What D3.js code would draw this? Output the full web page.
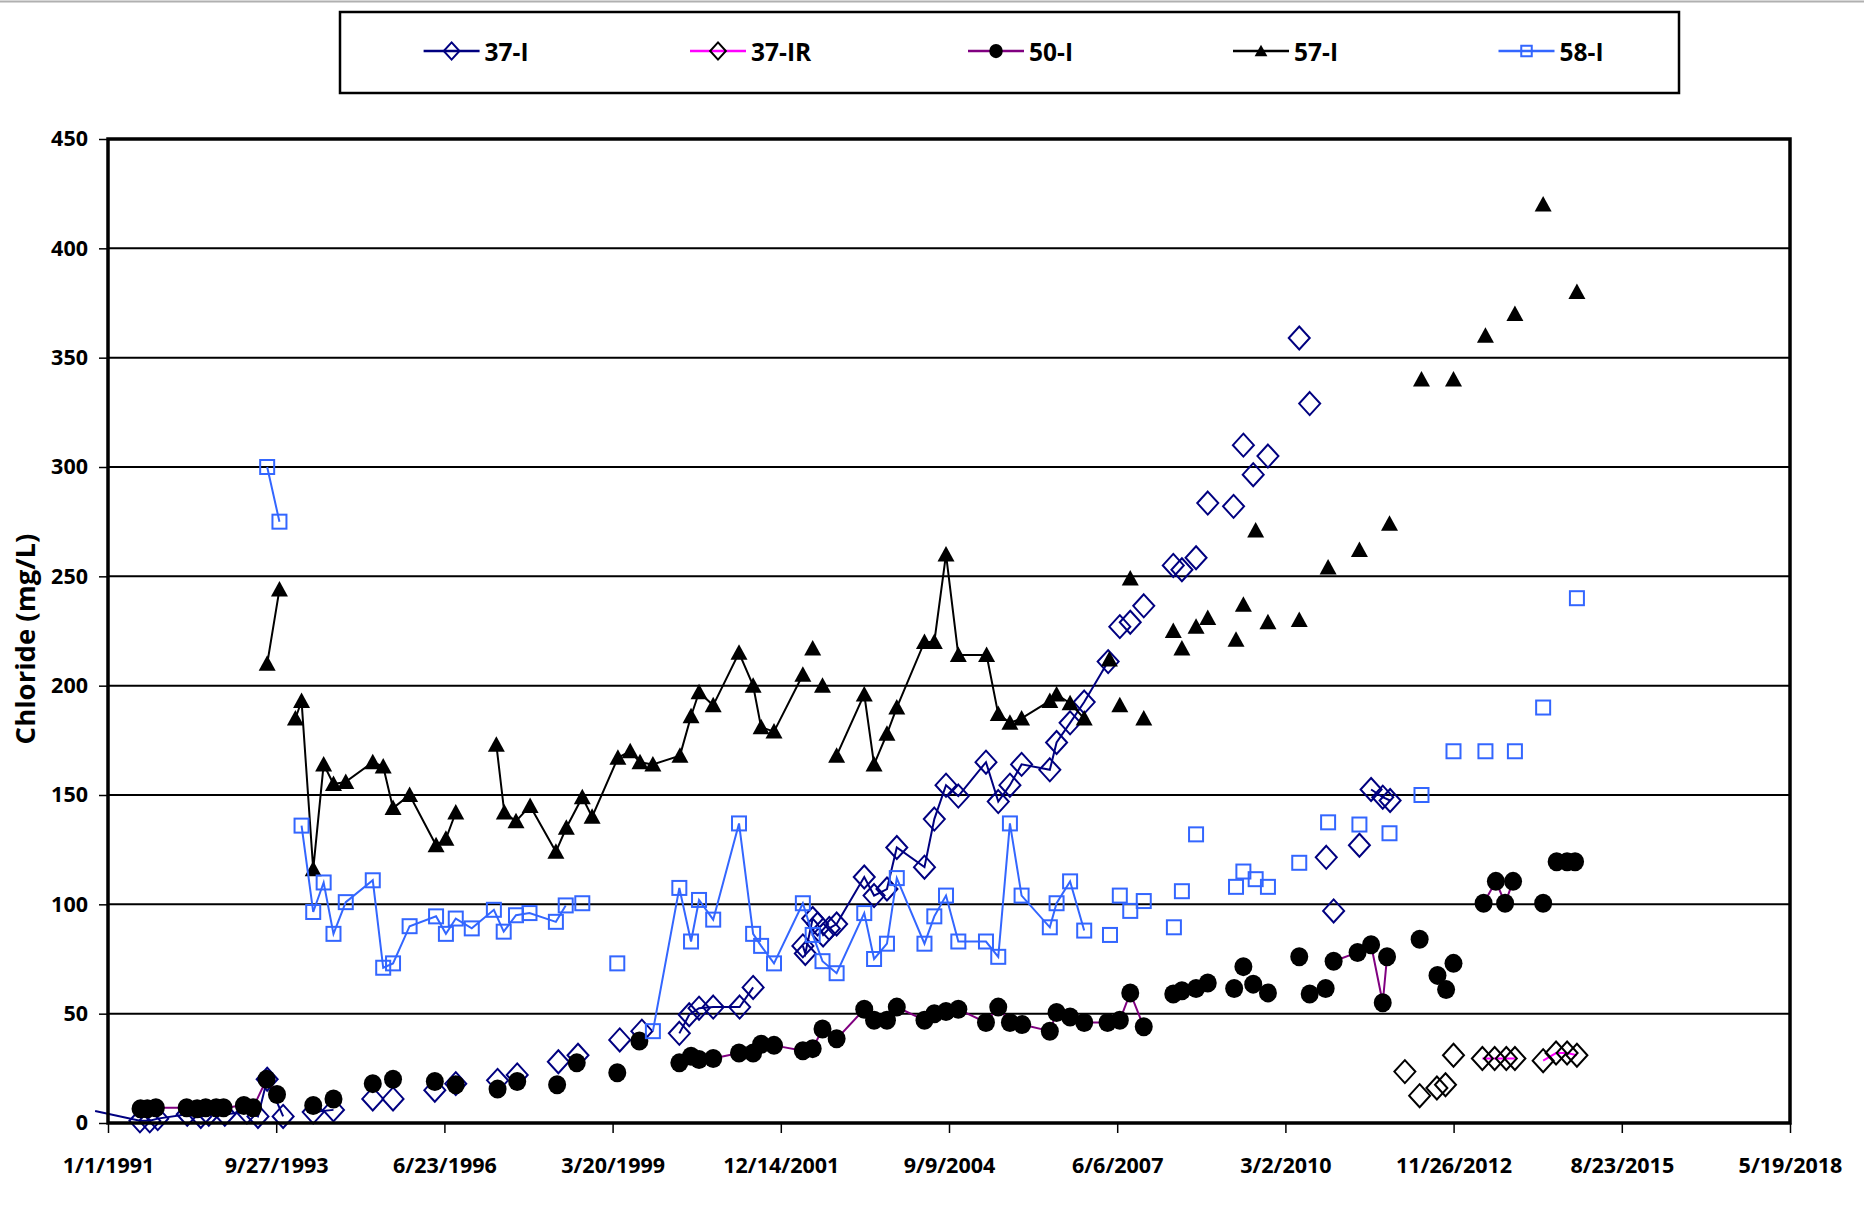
<!DOCTYPE html>
<html><head><meta charset="utf-8">
<script src="https://cdn.jsdelivr.net/npm/d3@7"></script>
<style>
body{margin:0;background:#fff}
svg{display:block}
text{font-family:"Open Sans",Arial,sans-serif;font-weight:700;fill:#000}
</style>
</head><body>
<svg id="c" width="1864" height="1222"></svg>
<script>
// ---- data (dates as decimal years; null = gap in the series) ----
const seriesNames = ["37-I", "37-IR", "50-I", "57-I", "58-I"];

const t37I = [1990.79,1991.52,1991.68,1991.81,1992.29,1992.51,1992.64,1992.90,1993.26,1993.44,1993.59,1993.85,null,1994.34,1994.67,null,1995.31,null,1995.64,null,1996.32,null,1996.66,null,1997.34,null,1997.66,null,1998.33,null,1998.65,null,1999.33,null,1999.69,null,2000.30,2000.46,2000.62,2000.85,2001.28,2001.50,null,2002.31,2002.35,2002.47,2002.55,2002.64,2002.74,2002.86,2003.31,2003.47,2003.68,2003.84,2004.29,2004.45,2004.64,2004.84,2005.29,2005.49,2005.68,2005.87,2006.33,2006.44,2006.66,2006.89,2007.28,null,2007.47,null,2007.64,null,2007.86,null,2008.34,null,2008.48,null,2008.71,null,2008.90,null,2009.32,null,2009.48,null,2009.64,null,2009.88,null,2010.39,null,2010.56,null,2010.83,null,2010.95,null,2011.37,null,2011.56,2011.75,2011.87];
const v37I = [5.5,1,1,2,4,3,4,4,5,3,20,3,null,5,6,null,11,null,11,null,15,null,18,null,19.5,null,22,null,28,null,31,null,38,null,42,null,41,49.5,52.5,53,53,62,null,81,77.5,93.5,91,86,89,91,112.5,104,107,126,117,139,154.5,149.5,165,147,154.5,164,161.5,174,183,192.5,211,null,227,null,229,null,236.5,null,255,null,253,null,258.5,null,283.5,null,282,null,310,null,296.5,null,305,null,359,null,329,null,121.5,null,97,null,127,null,152.5,149,147.5];

const t37IR = [2012.11,null,2012.35,null,2012.63,null,2012.77,null,2012.90,null,2013.37,2013.57,2013.76,2013.90,null,2014.36,2014.57,2014.75,2014.91];
const v37IR = [23.5,null,12.5,null,16,null,17.5,null,31,null,29.5,29.5,29.5,29.5,null,28.5,32,32,31];

const t50I = [1991.53,1991.64,1991.78,1992.28,1992.45,1992.59,1992.76,1992.88,1993.21,1993.36,1993.58,1993.75,null,1994.34,null,1994.67,null,1995.31,null,1995.64,null,1996.32,null,1996.66,null,1997.34,null,1997.66,null,1998.31,null,1998.63,null,1999.29,null,1999.65,null,2000.30,2000.49,2000.62,2000.85,2001.27,2001.50,2001.63,2001.84,2002.31,2002.47,2002.63,2002.86,2003.31,2003.47,2003.68,2003.84,2004.29,2004.45,2004.64,2004.84,2005.29,2005.49,2005.68,2005.88,2006.33,2006.44,2006.66,2006.89,2007.27,2007.47,2007.64,2007.86,null,2008.34,null,2008.48,null,2008.71,null,2008.90,null,2009.33,null,2009.48,null,2009.64,null,2009.88,null,2010.39,null,2010.56,null,2010.82,null,2010.95,2011.34,2011.56,2011.75,2011.82,null,2012.35,null,2012.64,null,2012.78,null,2012.90,null,2013.39,2013.59,2013.74,2013.87,null,2014.36,null,2014.58,2014.75,2014.88];
const v50I = [6.5,6.5,7,7,6.5,7,7,7,8,7,20,13,null,8,null,11,null,18,null,20,null,19,null,17.5,null,15.5,null,19,null,17.5,null,27.5,null,23,null,37.5,null,27.5,30.5,29,29.5,32,32,36,35.5,33,34,43,38.5,52,47,47,53,47,50,51,52,46,53,46,45,42,50.5,48.5,46,46,47,59.5,44,null,59,null,60.5,null,61.5,null,64,null,61.5,null,71.5,null,63.5,null,59.5,null,76,null,59,null,61.5,null,74,78,81.5,55,76,null,84,null,67.5,null,61,null,73,null,100.5,110.5,100.5,110.5,null,100.5,null,119.5,119.5,119.5];

const t57I = [1993.59,1993.79,null,1994.05,1994.15,1994.34,1994.51,1994.67,1994.87,1995.31,1995.48,1995.64,1995.91,1996.34,1996.50,1996.66,null,1997.32,1997.45,1997.64,1997.87,1998.29,1998.46,1998.72,1998.88,1999.30,1999.50,1999.66,1999.87,2000.31,2000.49,2000.62,2000.85,2001.27,2001.50,2001.63,2001.84,2002.31,null,2002.47,null,2002.63,null,2002.86,2003.31,2003.47,2003.68,2003.84,2004.29,2004.45,2004.64,2004.84,2005.30,2005.49,2005.68,2005.87,2006.33,2006.44,2006.66,2006.89,null,2007.30,null,2007.47,null,2007.64,null,2007.86,null,2008.34,null,2008.48,null,2008.71,null,2008.90,null,2009.36,null,2009.48,null,2009.68,null,2009.88,null,2010.39,null,2010.86,null,2011.37,null,2011.86,null,2012.38,null,2012.90,null,2013.42,null,2013.90,null,2014.36,null,2014.91];
const v57I = [210,244,null,185,193,116,164,155,156,165,163,144,150,127,130,142,null,173,142,138,145,124,135,149,140,167,170,165,164,168,186,197,191,215,200,181,179,205,null,217,null,200,null,168,196,164,178,190,220,220,260,214,214,187,183,185,193,196,192,185,null,212,null,191,null,249,null,185,null,225,null,217,null,227,null,231,null,221,null,237,null,271,null,229,null,230,null,254,null,262,null,274,null,340,null,340,null,360,null,370,null,420,null,380];

const t58I = [1993.59,1993.79,null,1994.15,1994.34,1994.51,1994.67,1994.87,1995.31,1995.48,1995.64,1995.91,1996.34,1996.50,1996.66,1996.92,1997.28,1997.44,1997.64,1997.86,1998.29,1998.45,null,1998.72,null,1999.29,null,1999.87,2000.30,2000.49,2000.62,2000.85,2001.27,2001.50,2001.63,2001.84,2002.31,2002.47,2002.63,2002.86,2003.31,2003.47,2003.68,2003.84,2004.29,2004.45,2004.64,2004.84,2005.29,2005.49,2005.68,2005.87,2006.33,2006.44,2006.66,2006.89,null,2007.31,null,2007.47,null,2007.64,null,2007.86,null,2008.35,null,2008.48,null,2008.71,null,2009.36,null,2009.48,null,2009.68,null,2009.88,null,2010.39,null,2010.86,null,2011.37,null,2011.86,null,2012.38,null,2012.90,null,2013.42,null,2013.90,null,2014.36,null,2014.91];
const v58I = [300,275,null,136,96.5,110,86.5,101,111,71,73,90,94.5,86.5,93.5,89,97.5,87.5,95,96,92,99.5,null,100.5,null,73,null,42,107.5,83,102,93,137,86.5,81,73,100.5,86,74,68.5,96,75,82,112,82,94.5,104,83,83,76,137,104,89.5,100.5,110.5,88,null,86,null,104,null,97,null,101.5,null,89.5,null,106,null,132,null,108,null,115,null,111.5,null,108,null,119,null,137.5,null,136.5,null,132.5,null,150,null,170,null,170,null,170,null,190,null,240];

const yTicks = [0,50,100,150,200,250,300,350,400,450];
const xStart = "1991-01-01", xEnd = "2018-05-19", xTickStepDays = 1000;
const yLabel = "Chloride (mg/L)";

// ---- helpers ----
function toDate(y){
  if (y == null) return null;
  const yr = Math.floor(y), s = Date.UTC(yr,0,1), e = Date.UTC(yr+1,0,1);
  return new Date(s + (y-yr)*(e-s));
}
function zip(ts, vs){ return ts.map((t,i)=>({d: toDate(t), v: vs[i]})); }

const series = [
  {name:"37-I",  data: zip(t37I,v37I),   line:"#000080", marker:"diamond", mstroke:"#000080"},
  {name:"37-IR", data: zip(t37IR,v37IR), line:"#FF00FF", marker:"diamond", mstroke:"#000000"},
  {name:"50-I",  data: zip(t50I,v50I),   line:"#800080", marker:"circle",  mstroke:"#000000"},
  {name:"57-I",  data: zip(t57I,v57I),   line:"#000000", marker:"triangle",mstroke:"#000000"},
  {name:"58-I",  data: zip(t58I,v58I),   line:"#3366FF", marker:"square",  mstroke:"#3366FF"}
];

const L=108, R=1790, T=139, B=1123;
const svg = d3.select("#c");
const x = d3.scaleUtc().domain([new Date(xStart+"T00:00:00Z"), new Date(xEnd+"T00:00:00Z")]).range([L,R]);
const y = d3.scaleLinear().domain([0,450]).range([B,T]);

// top hairline
svg.append("line").attr("x1",0).attr("x2",1864).attr("y1",1.5).attr("y2",1.5).attr("stroke","#b0b0b0").attr("stroke-width",2);

// gridlines
svg.append("g").selectAll("line").data(yTicks.filter(v=>v>0&&v<450)).join("line")
  .attr("x1",L).attr("x2",R).attr("y1",d=>y(d)).attr("y2",d=>y(d))
  .attr("stroke","#000").attr("stroke-width",2);

// axes
const xTicks = d3.range(0,11).map(i=>d3.utcDay.offset(x.domain()[0], i*xTickStepDays));
const fmt = d3.utcFormat("%-m/%-d/%Y");
const xAxis = svg.append("g").attr("transform",`translate(0,${B})`)
  .call(d3.axisBottom(x).tickValues(xTicks).tickFormat(fmt).tickSize(10).tickPadding(25));
xAxis.select(".domain").remove();
xAxis.selectAll("line").attr("stroke","#000").attr("stroke-width",1.5);
xAxis.selectAll("text").attr("font-size",21.5).style("font-family",'"Open Sans",Arial,sans-serif').style("font-weight",700);

const yAxis = svg.append("g").attr("transform",`translate(${L},0)`)
  .call(d3.axisLeft(y).tickValues(yTicks).tickSize(9).tickPadding(11));
yAxis.select(".domain").remove();
yAxis.selectAll("line").attr("stroke","#000").attr("stroke-width",1.5);
yAxis.selectAll("text").attr("font-size",21.5).style("font-family",'"Open Sans",Arial,sans-serif').style("font-weight",700);

// y label
svg.append("text").attr("transform","translate(28,639) rotate(-90)")
  .attr("text-anchor","middle").attr("dominant-baseline","middle")
  .attr("font-size",27.5).text(yLabel);

// markers
function drawMarker(g, type, stroke, s){
  s = s || 1;
  if (type==="diamond"){
    const w=10.5*s, h=11.5*s;
    g.append("path").attr("d",`M0,${-h}L${w},0L0,${h}L${-w},0Z`).attr("fill","none")
      .attr("stroke",stroke).attr("stroke-width",2);
  } else if (type==="circle"){
    g.append("ellipse").attr("rx",9*s).attr("ry",9.5*s).attr("fill","#000");
  } else if (type==="triangle"){
    g.append("path").attr("d",`M0,${-8.5*s}L${8.5*s},${7*s}L${-8.5*s},${7*s}Z`).attr("fill","#000");
  } else if (type==="square"){
    const h=7*s;
    g.append("rect").attr("x",-h).attr("y",-h).attr("width",2*h).attr("height",2*h)
      .attr("fill","none").attr("stroke",stroke).attr("stroke-width",2);
  }
}

const line = d3.line().defined(d=>d.v!=null && d.d!=null).x(d=>x(d.d)).y(d=>y(d.v));
const x0 = x.domain()[0];
series.forEach(s=>{
  const g = svg.append("g");
  g.append("path").attr("d",line(s.data)).attr("fill","none").attr("stroke",s.line).attr("stroke-width",2);
  s.data.filter(d=>d.v!=null && d.d!=null && d.d>=x0).forEach(d=>{
    const mg = g.append("g").attr("transform",`translate(${x(d.d)},${y(d.v)})`);
    drawMarker(mg, s.marker, s.mstroke);
  });
});

// plot frame
svg.append("rect").attr("x",L).attr("y",T).attr("width",R-L).attr("height",B-T)
  .attr("fill","none").attr("stroke","#000").attr("stroke-width",3.5);

// legend
const lg = svg.append("g");
lg.append("rect").attr("x",340).attr("y",12).attr("width",1339).attr("height",81)
  .attr("fill","#fff").attr("stroke","#000").attr("stroke-width",2.5);
const legX = [451.6, 718, 996, 1261, 1526.5];
series.forEach((s,i)=>{
  const cx = legX[i], cy = 51;
  lg.append("line").attr("x1",cx-28).attr("x2",cx+28).attr("y1",cy).attr("y2",cy)
    .attr("stroke",s.line).attr("stroke-width",2.5);
  const mg = lg.append("g").attr("transform",`translate(${cx},${cy})`);
  drawMarker(mg, s.marker, s.mstroke, 0.75);
  lg.append("text").attr("x",cx+33).attr("y",cy).attr("dominant-baseline","central")
    .attr("font-size",24.5).text(s.name);
});
</script>
</body></html>
